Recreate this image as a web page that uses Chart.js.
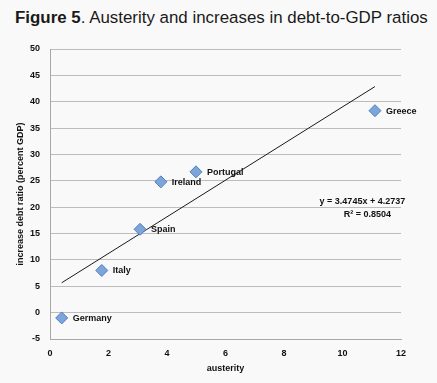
<!DOCTYPE html>
<html><head><meta charset="utf-8">
<script src="https://cdn.jsdelivr.net/npm/chart.js@4/dist/chart.umd.min.js"></script>
<style>
html,body{margin:0;padding:0;background:#f9f9f9;width:437px;height:383px;overflow:hidden}
#title{position:absolute;left:15px;top:8px;font-family:"Liberation Sans",Arial,sans-serif;font-size:16.9px;color:#1a1a1a;white-space:nowrap}
canvas{position:absolute;left:0;top:0}
</style></head><body>
<div id="title"><b>Figure 5</b>. Austerity and increases in debt-to-GDP ratios</div>
<canvas id="c" width="437" height="383"></canvas>
<script>
const countries = ["Germany","Italy","Spain","Ireland","Portugal","Greece"];
const austerity = [0.40, 1.77, 3.08, 3.79, 4.99, 11.11];
const debtIncrease = [-1.0, 8.0, 15.8, 24.8, 26.7, 38.3];
const trendSlope = 3.4745;
const trendIntercept = 4.2737;
const trendR2 = 0.8504;
const xTicks = [0,2,4,6,8,10,12];
const yTicks = [-5,0,5,10,15,20,25,30,35,40,45,50];

const font = {family:"'Liberation Sans', Arial, sans-serif", size:9, weight:'bold'};
const pts = countries.map((c,i)=>({x:austerity[i], y:debtIncrease[i], label:c}));
const xMin = Math.min(...austerity), xMax = Math.max(...austerity);
const trend = [xMin, xMax].map(x=>({x, y: trendSlope*x + trendIntercept}));

const labelPlugin = {
  id:'labels',
  afterDatasetsDraw(chart){
    const ctx = chart.ctx;
    const meta = chart.getDatasetMeta(1);
    ctx.save();
    ctx.font = "bold 9px 'Liberation Sans', Arial, sans-serif";
    ctx.fillStyle = '#111';
    ctx.textBaseline = 'middle';
    ctx.textAlign = 'left';
    meta.data.forEach((el,i)=>{ ctx.fillText(countries[i], el.x + 11, el.y + 0.5); });
    const xs = chart.scales.x, ys = chart.scales.y;
    const ex = xs.getPixelForValue(10.68), ey = ys.getPixelForValue(21.0);
    ctx.textAlign = 'center';
    ctx.fillText(`y = ${trendSlope}x + ${trendIntercept}`, ex, ey);
    ctx.fillText(`R² = ${trendR2}`, ex + 5, ey + 13);
    ctx.restore();
  }
};

new Chart(document.getElementById('c'), {
  type:'scatter',
  data:{datasets:[
    {type:'line', data:trend, borderColor:'#1a1a1a', borderWidth:1, pointRadius:0, fill:false, order:2},
    {data:pts, pointStyle:'rectRot', pointRadius:6, pointHoverRadius:6,
     backgroundColor:'#7da5d9', borderColor:'#4f7fbf', borderWidth:1, order:1}
  ]},
  options:{
    responsive:false, animation:false,
    layout:{padding:{top:49, right:36, left:0, bottom:0}},
    plugins:{legend:{display:false}, tooltip:{enabled:false}, title:{display:false}},
    scales:{
      x:{type:'linear', min:0, max:12,
        afterBuildTicks(s){ s.ticks = xTicks.map(v=>({value:v})); },
        afterFit(s){ s.height = 44; },
        grid:{display:false, drawTicks:false},
        border:{display:true, color:'#a8a8a8', width:1},
        ticks:{font, color:'#111', padding:9, maxRotation:0},
        title:{display:true, text:'austerity', font, color:'#111', padding:{top:0, bottom:9}}
      },
      y:{type:'linear', min:-5, max:50,
        afterBuildTicks(s){ s.ticks = yTicks.map(v=>({value:v})); },
        afterFit(s){ s.width = 50; },
        grid:{color:'#bcbcbc', drawTicks:false, lineWidth:1},
        border:{display:true, color:'#a8a8a8', width:1},
        ticks:{font, color:'#111', padding:10},
        title:{display:true, text:'increase debt ratio (percent GDP)', font, color:'#111', padding:{top:15, bottom:0}}
      }
    }
  },
  plugins:[labelPlugin]
});
</script>
</body></html>
